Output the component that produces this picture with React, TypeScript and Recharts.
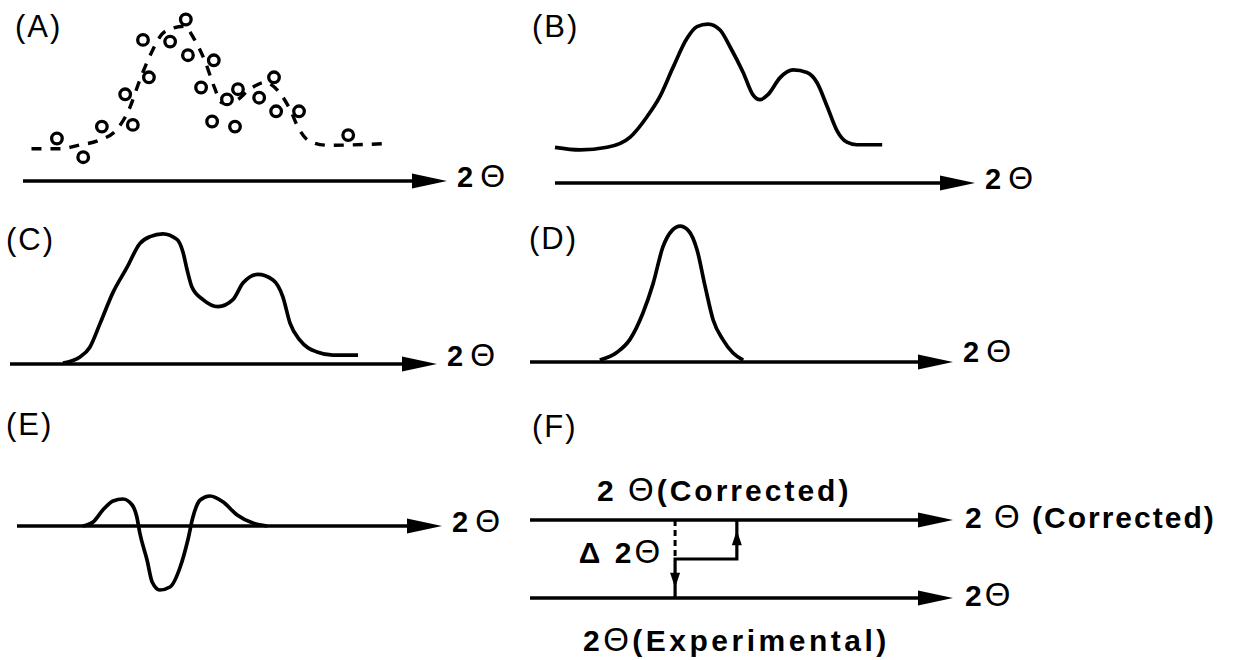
import React from 'react';
import {
  ComposedChart,
  Line,
  Scatter,
  XAxis,
  YAxis,
  ReferenceLine,
  ReferenceDot,
} from 'recharts';

const FONT = '"Liberation Sans", Arial, Helvetica, sans-serif';
const INK = '#000';

// (A) measured counts and the smoothed trace drawn behind them
const aCountTheta = [8, 14.2, 18.6, 25.9, 24.1, 29.7, 28.3, 34.7, 38.4, 38.9, 45, 42, 44.6, 48.1, 50, 50.7, 55.7, 59.2, 59.7, 65.1, 76.7];
const aCounts = [25, 14, 32, 33, 51, 61, 83, 82, 95, 74, 71, 55, 35, 48, 32, 54, 49, 61, 41, 41, 27];
const aTraceTheta = [2, 9, 13, 18, 22, 25, 27.5, 30, 33.5, 38, 40.5, 43, 45, 47, 50, 53.5, 57, 60.5, 63, 65, 67.5, 72, 85.5];
const aTrace = [19, 19, 21, 24, 30, 42, 59, 74, 88, 91, 83, 70, 56, 46, 47, 54, 58, 52, 42, 31, 23.5, 21, 22];

// (B) smoothed profile
const bTheta = [0, 6, 12.4, 17.9, 21.9, 25, 28.1, 31.4, 33.8, 36.4, 39.3, 41.7, 44.8, 47.1, 48.8, 50.7, 53.6, 56.7, 60, 62.4, 64.8, 67.1, 69.5, 71.9, 77.9];
const bIntensity = [21, 19.5, 21, 27, 39, 51, 68, 85, 92, 93.5, 90, 80, 65, 52, 49, 52, 62, 66.5, 65, 59, 45, 31, 24, 22.5, 22.5];

// (C) background removed
const cTheta = [12.4, 16.4, 18.7, 21.1, 24.1, 27.4, 30.4, 32.8, 35.8, 39.1, 40.5, 41.5, 42.6, 45.2, 48.7, 52.2, 54.6, 58, 61.6, 63.9, 65.6, 67.9, 71.9, 75.6, 81.5];
const cIntensity = [0.7, 5, 12, 29, 51, 69, 86, 91, 93, 89, 80, 67, 55, 46, 41, 46, 58, 64, 60, 48, 29, 17, 8.6, 6.4, 6.4];

// (D) single Kα1 peak
const dTheta = [16.5, 20.6, 23.6, 26.7, 29.1, 31.4, 33.6, 35.5, 37.4, 39.5, 41.4, 43.3, 45.6, 48, 50.4];
const dIntensity = [1.4, 7, 16, 35, 56, 82, 94, 97, 94, 80, 54, 30, 16, 6.4, 1.4];

// (E) second derivative
const eTheta = [15.5, 17.9, 20.2, 22.6, 24.9, 27.1, 28.2, 28.9, 30.6, 31.8, 33.6, 36, 38.4, 40.2, 41.4, 43.1, 45.4, 48.5, 51.8, 55.5, 58.8];
const eValue = [0, 4, 16, 25, 27, 21, 9, -7, -34, -56, -64, -61, -41, -14, 9, 26, 30, 24, 11, 3, 0];

// (F) experimental -> corrected 2θ shift
const fExperimental = 34.3;
const fCorrected = 48.9;
const fStepLevel = 0.5;

const zip = (xs: number[], ys: number[]) => xs.map((x, i) => ({ x, y: ys[i] }));

type Caption = { text: string; dx: number; dy: number; size: number; spacing: number };

// bold text, with the theta drawn thin and a little taller like the original lettering
function Lettering({ x, y, c, anchor }: { x: number; y: number; c: Caption; anchor?: 'start' | 'end' }) {
  const parts = c.text.split(/(Θ)/);
  return (
    <text
      x={x}
      y={y + c.dy + c.size * 0.36}
      textAnchor={anchor ?? 'start'}
      fontFamily={FONT}
      fontWeight="bold"
      fontSize={c.size}
      letterSpacing={c.spacing}
      fill={INK}
    >
      {parts.map((s, i) =>
        s === 'Θ' ? (
          <tspan key={i} fontWeight="normal" fontSize={c.size * 1.1}>
            Θ
          </tspan>
        ) : (
          <tspan key={i}>{s}</tspan>
        ),
      )}
    </text>
  );
}

function axisArrow(label: Caption, captions: Caption[] = []) {
  return (p: any) => {
    const y = p.y1;
    const tip = p.x2;
    return (
      <g>
        <line x1={p.x1} y1={y} x2={tip - 20} y2={y} stroke={INK} strokeWidth={3.6} />
        <polygon points={`${tip},${y} ${tip - 35},${y - 7.5} ${tip - 35},${y + 7.5}`} fill={INK} />
        <Lettering x={tip + label.dx} y={y} c={label} />
        {captions.map((c) => (
          <Lettering key={c.text} x={p.x1 + c.dx} y={y} c={c} />
        ))}
      </g>
    );
  };
}

const twoTheta = (dy: number): Caption => ({ text: '2Θ', dx: 10, dy, size: 29, spacing: 7 });

const lineProps = {
  dataKey: 'y',
  stroke: INK,
  strokeWidth: 3.7,
  dot: false,
  activeDot: false,
  isAnimationActive: false,
} as const;

type Box = { left: number; top: number; width: number; height: number; m: [number, number, number, number] };

function Panel({ box, yDomain, children }: { box: Box; yDomain: [number, number]; children: React.ReactNode }) {
  const [top, right, bottom, left] = box.m;
  return (
    <div style={{ position: 'absolute', left: box.left, top: box.top }}>
      <ComposedChart width={box.width} height={box.height} margin={{ top, right, bottom, left }}>
        <XAxis type="number" dataKey="x" domain={[0, 100]} hide />
        <YAxis type="number" dataKey="y" domain={yDomain} hide />
        {children}
      </ComposedChart>
    </div>
  );
}

function Tag({ text, left, top }: { text: string; left: number; top: number }) {
  return (
    <div
      style={{
        position: 'absolute',
        left,
        top,
        fontFamily: FONT,
        fontSize: 31,
        lineHeight: '31px',
        letterSpacing: 2,
        color: INK,
      }}
    >
      {text}
    </div>
  );
}

const upHead = (p: any) => (
  <polygon points={`${p.cx},${p.cy} ${p.cx - 5},${p.cy + 15} ${p.cx + 5},${p.cy + 15}`} fill={INK} />
);
const downHead = (p: any) => (
  <polygon points={`${p.cx},${p.cy} ${p.cx - 5},${p.cy - 15} ${p.cx + 5},${p.cy - 15}`} fill={INK} />
);

export default function App() {
  return (
    <div style={{ position: 'absolute', left: 0, top: 0, width: 1233, height: 660, background: '#fff', overflow: 'hidden' }}>
      <Panel box={{ left: 0, top: 0, width: 520, height: 200, m: [11, 73, 19, 23] }} yDomain={[0, 100]}>
        <Line data={zip(aTraceTheta, aTrace)} {...lineProps} type="monotone" strokeWidth={3.4} strokeDasharray="10 9" />
        <Scatter
          data={zip(aCountTheta, aCounts)}
          isAnimationActive={false}
          shape={(p: any) => <circle cx={p.cx} cy={p.cy} r={5.3} fill="#fff" stroke={INK} strokeWidth={3.3} />}
        />
        <ReferenceLine y={0} shape={axisArrow(twoTheta(-4))} />
      </Panel>

      <Panel box={{ left: 520, top: 0, width: 713, height: 200, m: [13, 258, 17, 35] }} yDomain={[0, 100]}>
        <Line data={zip(bTheta, bIntensity)} {...lineProps} type="monotone" />
        <ReferenceLine y={0} shape={axisArrow(twoTheta(-4))} />
      </Panel>

      <Panel box={{ left: 0, top: 200, width: 520, height: 190, m: [24, 83, 26, 10] }} yDomain={[0, 100]}>
        <Line data={zip(cTheta, cIntensity)} {...lineProps} type="monotone" />
        <ReferenceLine y={0} shape={axisArrow(twoTheta(-8))} />
      </Panel>

      <Panel box={{ left: 520, top: 200, width: 713, height: 190, m: [22, 280, 28, 10] }} yDomain={[0, 100]}>
        <Line data={zip(dTheta, dIntensity)} {...lineProps} type="monotone" />
        <ReferenceLine y={0} shape={axisArrow(twoTheta(-10))} />
      </Panel>

      <Panel box={{ left: 0, top: 400, width: 520, height: 240, m: [26, 78, 14, 17] }} yDomain={[-100, 100]}>
        <Line data={zip(eTheta, eValue)} {...lineProps} type="monotone" />
        <ReferenceLine y={0} shape={axisArrow(twoTheta(-4))} />
      </Panel>

      <Panel box={{ left: 520, top: 400, width: 713, height: 260, m: [120, 280, 62, 10] }} yDomain={[0, 1]}>
        <Line
          data={zip([fExperimental, fExperimental], [1, fStepLevel])}
          {...lineProps}
          type="linear"
          strokeWidth={3}
          strokeDasharray="6 4"
        />
        <Line
          data={zip([fExperimental, fExperimental, fCorrected, fCorrected], [0, fStepLevel, fStepLevel, 1])}
          {...lineProps}
          type="linear"
          strokeWidth={3.2}
        />
        <Scatter data={zip([fExperimental], [0.13])} isAnimationActive={false} shape={downHead} />
        <Scatter data={zip([fCorrected], [0.87])} isAnimationActive={false} shape={upHead} />
        <ReferenceLine
          y={1}
          shape={axisArrow({ text: '2 Θ (Corrected)', dx: 12, dy: -3, size: 30, spacing: 2 }, [
            { text: '2 Θ(Corrected)', dx: 67, dy: -30, size: 30, spacing: 3 },
          ])}
        />
        <ReferenceLine
          y={0}
          shape={axisArrow({ text: '2Θ', dx: 12, dy: -3, size: 30, spacing: 3 }, [
            { text: '2Θ(Experimental)', dx: 53, dy: 42, size: 30, spacing: 3.5 },
          ])}
        />
        <ReferenceDot
          x={fExperimental}
          y={0.59}
          r={0}
          shape={(p: any) => (
            <Lettering
              x={p.cx - 12}
              y={p.cy}
              anchor="end"
              c={{ text: 'Δ 2Θ', dx: 0, dy: 0, size: 30, spacing: 3 }}
            />
          )}
        />
      </Panel>

      <Tag text="(A)" left={15} top={11} />
      <Tag text="(B)" left={532} top={11} />
      <Tag text="(C)" left={6} top={224} />
      <Tag text="(D)" left={529} top={223} />
      <Tag text="(E)" left={6} top={409} />
      <Tag text="(F)" left={532} top={411} />
    </div>
  );
}
